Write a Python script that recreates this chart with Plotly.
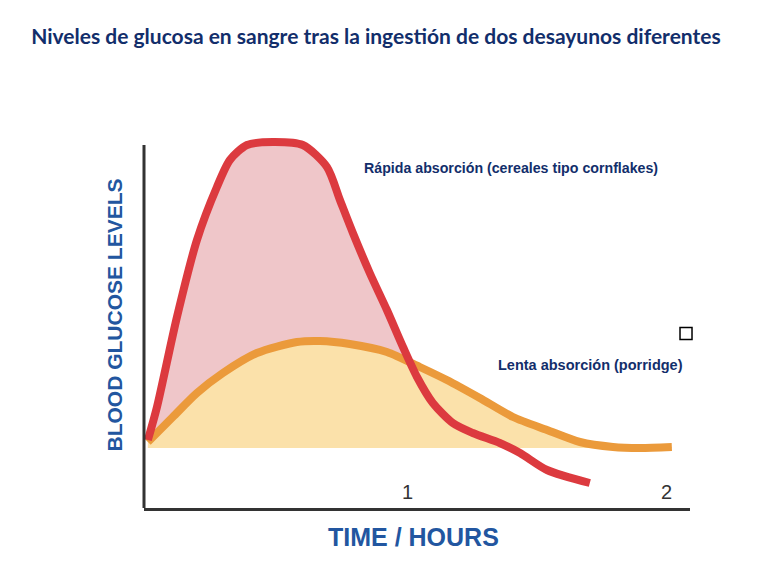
import plotly.graph_objects as go

# Time in hours, glucose level in arbitrary units (baseline = 0)
rapid_t = [0.0, 0.035, 0.112, 0.189, 0.266, 0.316, 0.382, 0.482, 0.597, 0.690, 0.740,
           0.790, 0.855, 0.921, 0.983, 1.037, 1.098, 1.175, 1.252, 1.356, 1.434, 1.538, 1.703]
rapid_g = [0.08, 0.41, 1.31, 2.08, 2.61, 2.88, 3.03, 3.06, 3.03, 2.81, 2.48,
           2.15, 1.75, 1.38, 1.01, 0.71, 0.45, 0.25, 0.15, 0.05, -0.05, -0.22, -0.35]

slow_t = [0.0, 0.096, 0.189, 0.289, 0.420, 0.574, 0.663, 0.778, 0.921, 1.048, 1.152,
          1.279, 1.407, 1.538, 1.665, 1.792, 1.896, 2.019]
slow_g = [0.06, 0.31, 0.55, 0.75, 0.95, 1.06, 1.07, 1.04, 0.96, 0.81, 0.68,
          0.50, 0.31, 0.18, 0.06, 0.01, 0.00, 0.01]

tick_vals = [1, 2]
tick_labels = ["1", "2"]

title_text = "Niveles de glucosa en sangre tras la ingestión de dos desayunos diferentes"
rapid_label = "Rápida absorción (cereales tipo cornflakes)"
slow_label = "Lenta absorción (porridge)"
x_title = "TIME / HOURS"
y_title = "BLOOD GLUCOSE LEVELS"

RED = "#dc3a3f"
PINK = "#efc6c9"
ORANGE = "#eb9a3b"
YELLOW = "#fbe1aa"
NAVY = "#122e6b"
BLUE = "#2256a0"

Y_MIN, Y_AXIS_TOP, Y_MAX = -0.60, 3.03, 3.15
SMOOTH = 0.75

# part of the rapid curve above the baseline (for the pink area)
k = max(i for i, g in enumerate(rapid_g) if g >= 0) + 1
pink_t = rapid_t[:k]
pink_g = rapid_g[:k]

fig = go.Figure()
fig.add_trace(go.Scatter(x=pink_t, y=pink_g, mode="lines", fill="tozeroy",
                         fillcolor=PINK, line=dict(width=0, shape="spline", smoothing=SMOOTH),
                         hoverinfo="skip", showlegend=False))
fig.add_trace(go.Scatter(x=slow_t, y=slow_g, mode="lines", fill="tozeroy",
                         fillcolor=YELLOW, line=dict(width=0, shape="spline", smoothing=SMOOTH),
                         hoverinfo="skip", showlegend=False))
fig.add_trace(go.Scatter(x=slow_t, y=slow_g, mode="lines",
                         line=dict(color=ORANGE, width=8, shape="spline", smoothing=SMOOTH),
                         showlegend=False))
fig.add_trace(go.Scatter(x=rapid_t, y=rapid_g, mode="lines",
                         line=dict(color=RED, width=8, shape="spline", smoothing=SMOOTH),
                         showlegend=False))

annotations = []
for v, lab in zip(tick_vals, tick_labels):
    annotations.append(dict(x=v, y=0, xref="x", yref="paper", text=lab, showarrow=False,
                            xanchor="center", yanchor="middle", yshift=16,
                            font=dict(family="Liberation Sans", size=20, color="#333333")))

annotations += [
    dict(x=0.825, y=2.80, xref="x", yref="y", text=rapid_label, showarrow=False,
         xanchor="left", yanchor="middle",
         font=dict(family="Liberation Sans", size=14.2, color=NAVY, weight="bold")),
    dict(x=1.341, y=0.83, xref="x", yref="y", text=slow_label, showarrow=False,
         xanchor="left", yanchor="middle",
         font=dict(family="Liberation Sans", size=14.5, color=NAVY, weight="bold")),
    dict(x=0, y=0.5, xref="paper", yref="paper", text=y_title, showarrow=False,
         textangle=-90, xanchor="center", yanchor="middle", xshift=-30, yshift=5,
         font=dict(family="Liberation Sans", size=21, color=BLUE, weight="bold")),
    dict(x=0.5, y=0, xref="paper", yref="paper", text=x_title, showarrow=False,
         xanchor="center", yanchor="middle", xshift=-4, yshift=-29,
         font=dict(family="Liberation Sans", size=25, color=BLUE, weight="bold")),
]

shapes = [
    # vertical axis line (stops a little below the top of the plot area)
    dict(type="line", xref="paper", yref="y", x0=0, x1=0, y0=Y_MIN, y1=Y_AXIS_TOP,
         line=dict(color="#333333", width=3), layer="above"),
    # small hollow square
    dict(type="rect", xref="paper", yref="paper", xsizemode="pixel", ysizemode="pixel",
         xanchor=0.9927, yanchor=0.4656, x0=-6, x1=6, y0=-6, y1=6,
         line=dict(color="black", width=1.5), fillcolor="white"),
]

fig.update_layout(
    width=762, height=576,
    margin=dict(l=144, r=72, t=133, b=68),
    paper_bgcolor="white", plot_bgcolor="white",
    title=dict(text=title_text, x=0.4934, xref="container", xanchor="center",
               y=1 - 37 / 576, yref="container", yanchor="middle",
               font=dict(family="Lato", size=21, color=NAVY, weight="bold")),
    annotations=annotations,
    shapes=shapes,
    xaxis=dict(range=[-0.015, 2.089], showgrid=False, zeroline=False, showticklabels=False,
               ticks="", showline=True, linecolor="#333333", linewidth=3, fixedrange=True),
    yaxis=dict(range=[Y_MIN, Y_MAX], showgrid=False, zeroline=False, showticklabels=False,
               ticks="", showline=False, fixedrange=True),
)

fig.write_html("out.html")
